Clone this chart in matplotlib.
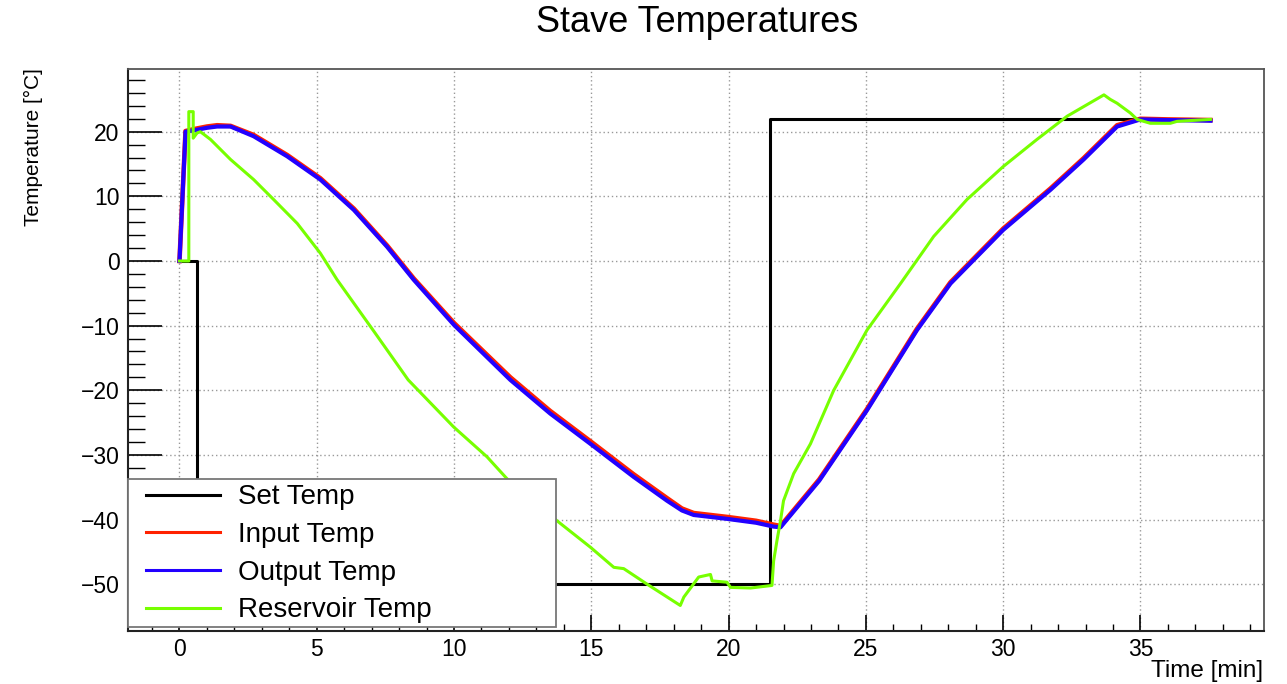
import matplotlib
matplotlib.use("Agg")
import matplotlib.pyplot as plt
from matplotlib.ticker import MultipleLocator
from matplotlib.patches import Rectangle

plt.rcParams['font.family'] = ['Liberation Sans', 'DejaVu Sans']

# ---- data ----
set_t = [0, 0.65, 0.65, 21.5, 21.5, 37.55]
set_T = [0, 0, -50, -50, 22, 22]

input_t = [0, 0.22, 0.64, 1.0, 1.37, 1.86, 2.7, 3.92, 5.13, 6.35, 7.56, 8.53, 10.0,
           12.05, 13.5, 14.97, 16.54, 17.76, 18.3, 18.73, 19.94, 21.0, 21.64, 21.89,
           22.36, 23.3, 25.04, 26.86, 28.08, 30.0, 31.72, 32.93, 34.15, 35.0, 36.0, 37.55]
input_T = [0, 20.1, 20.5, 20.8, 21.0, 20.9, 19.5, 16.4, 12.8, 8.1, 2.4, -2.7, -9.6,
           -18.0, -23.2, -27.9, -33.0, -36.7, -38.3, -39.0, -39.6, -40.2, -40.8, -41.0,
           -38.6, -33.8, -22.9, -10.5, -3.3, 5.0, 11.2, 15.9, 21.0, 22.0, 21.9, 21.8]

output_t = [0, 0.22, 0.64, 1.0, 1.37, 1.86, 2.7, 3.92, 5.13, 6.35, 7.56, 8.53, 10.0,
            12.05, 13.5, 14.97, 16.54, 17.76, 18.3, 18.73, 19.94, 21.0, 21.64, 21.89,
            22.36, 23.3, 25.04, 26.86, 28.08, 30.0, 31.72, 32.93, 34.15, 35.0, 36.0, 37.55]
output_T = [0, 20.0, 20.3, 20.6, 20.8, 20.8, 19.3, 16.2, 12.6, 7.9, 2.2, -2.9, -9.9,
            -18.4, -23.6, -28.3, -33.4, -37.1, -38.6, -39.3, -39.9, -40.5, -41.1, -41.2,
            -38.8, -34.0, -23.1, -10.7, -3.5, 4.8, 11.0, 15.7, 20.8, 21.9, 21.8, 21.7]

res_t = [0, 0.34, 0.34, 0.5, 0.5, 0.64, 0.76, 1.13, 1.86, 2.7, 3.43, 4.29, 5.13, 5.74,
         7.1, 8.33, 9.99, 11.2, 11.93, 13.75, 14.97, 15.82, 16.18, 17.03, 18.24, 18.37, 18.91,
         19.34, 19.4, 19.94, 20.07, 20.8, 21.58, 21.64, 21.76, 21.89, 22.0, 22.37, 22.98,
         23.83, 25.04, 26.26, 27.47, 28.68, 30.0, 31.23, 32.33, 33.67, 33.9, 34.15, 34.63,
         34.88, 35.36, 36.09, 36.33, 37.55]
res_T = [0, 0, 23.1, 23.1, 19.0, 19.8, 20.0, 18.8, 15.7, 12.6, 9.5, 5.8, 1.2, -2.9,
         -11.0, -18.4, -25.7, -30.3, -33.7, -40.2, -44.3, -47.4, -47.6, -50.0, -53.3, -52.0, -48.9,
         -48.5, -49.5, -49.7, -50.5, -50.6, -50.2, -46.4, -43.3, -40.2, -37.1, -32.9, -28.3,
         -20.0, -10.7, -3.5, 3.8, 9.5, 14.6, 18.8, 22.4, 25.7, 25.0, 24.4, 22.9,
         21.9, 21.3, 21.3, 21.6, 21.9]

labels = ["Set Temp", "Input Temp", "Output Temp", "Reservoir Temp"]
colors = ["#000000", "#ff2200", "#2200ff", "#77ff00"]

W, H = 1287, 684
fig = plt.figure(figsize=(W / 100, H / 100), dpi=100)
ax = fig.add_axes([128 / W, (H - 631) / H, (1264 - 128) / W, (631 - 69) / H])

ax.plot(set_t, set_T, color=colors[0], lw=2.2, label=labels[0], zorder=3)
ax.plot(input_t, input_T, color=colors[1], lw=3.3, label=labels[1], zorder=4)
ax.plot(output_t, output_T, color=colors[2], lw=3.0, label=labels[2], zorder=5)
ax.plot(res_t, res_T, color=colors[3], lw=2.2, label=labels[3], zorder=6)

ax.set_xlim(-1.875, 39.5)
ax.set_ylim(-57.25, 29.7)

ax.xaxis.set_major_locator(MultipleLocator(5))
ax.xaxis.set_minor_locator(MultipleLocator(1))
ax.yaxis.set_major_locator(MultipleLocator(10))
ax.yaxis.set_minor_locator(MultipleLocator(2))

ax.tick_params(axis='x', which='major', direction='in', length=11.5, width=1.2,
               labelsize=16.5, pad=5)
ax.tick_params(axis='x', which='minor', direction='in', length=5, width=1.0)
ax.tick_params(axis='y', which='major', direction='in', length=24.5, width=1.2,
               labelsize=16.5, pad=6)
ax.tick_params(axis='y', which='minor', direction='in', length=12.5, width=1.0)
ax.tick_params(top=False, right=False, which='both')

ax.grid(True, which='major', color='#999999', linestyle=(0, (1, 2)), lw=1.0, zorder=0)
ax.set_axisbelow(True)

for s in ['left', 'bottom']:
    ax.spines[s].set_color('#222222')
    ax.spines[s].set_linewidth(1.5)
for s in ['right', 'top']:
    ax.spines[s].set_color('#555555')
    ax.spines[s].set_linewidth(1.3)

fig.text(697 / W, 1 - 22 / H, "Stave Temperatures", ha='center', va='center', fontsize=26)
fig.text(33 / W, 1 - 147 / H, "Temperature [°C]", ha='center', va='center',
         rotation=90, fontsize=15)
fig.text(1263 / W, 1 - 671 / H, "Time [min]", ha='right', va='center', fontsize=17.5)

# legend frame
frame = Rectangle((128 / W, (H - 627) / H), (556 - 128) / W, (627 - 479) / H,
                  transform=fig.transFigure, facecolor='white', edgecolor='#777777',
                  lw=1.3, zorder=9, clip_on=False)
ax.add_patch(frame)

leg_fs = 20
row_h = 0.91 * leg_fs * 100 / 72
leg = ax.legend(loc='upper left',
                bbox_to_anchor=(146 / W, 1 - (497 - row_h / 2) / H),
                bbox_transform=fig.transFigure,
                fontsize=leg_fs, handlelength=2.66, handletextpad=0.65, labelspacing=0.42,
                borderpad=0, borderaxespad=0, frameon=False)
leg.set_zorder(10)
for l in leg.get_lines():
    l.set_linewidth(2.2)

fig.savefig("out.png", dpi=100)
